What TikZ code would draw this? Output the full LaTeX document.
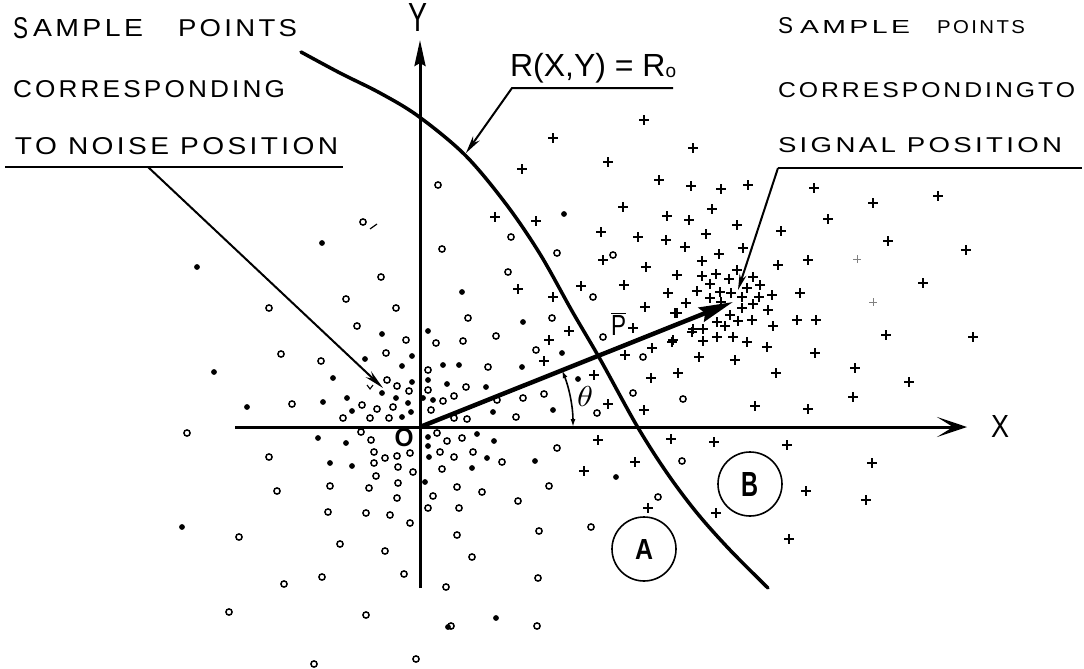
\documentclass[tikz,border=0pt]{standalone}
\usepackage{fontspec}
\usepackage{graphicx}
\usetikzlibrary{arrows.meta}
\newfontfamily\lf{Liberation Sans}
\newcommand{\fitw}[3]{\resizebox{#1pt}{#2pt}{\lf\addfontfeatures{LetterSpace=12}#3}}
\tikzset{
  txt/.style={inner sep=0pt, outer sep=0pt},
  axis/.style={line width=3pt},
  leader/.style={line width=2pt},
  curveR/.style={line width=3.5pt, line cap=round},
  vecP/.style={line width=4.5pt},
  pls/.pic={\draw[line width=1.8pt] (-5,0)--(5,0) (0,-5)--(0,5);},
  opn/.pic={\draw[line width=1.5pt] (0,0) circle[radius=3.1];},
  dt/.pic={\fill (0,0) circle[radius=2.9];},
  faint/.pic={\draw[line width=0.6pt, black!50] (-4,0)--(4,0) (0,-4)--(0,4);},
}
\begin{document}
\begin{tikzpicture}[x=1pt, y=-1pt]
\useasboundingbox (0,0) rectangle (1084,669);

% ---------- left text block ----------
\node[txt, anchor=base west] (lS) at (13,38) {\fitw{15}{21}{S}};
\node[txt, anchor=base west] (lAmple) at (33,37) {\fitw{110}{17}{AMPLE}};
\node[txt, anchor=base west] (lPoints) at (178,37) {\fitw{119}{17}{POINTS}};
\node[txt, anchor=base west] (lCorr) at (13,97) {\fitw{272}{17}{CORRESPONDING}};
\node[txt, anchor=base west] (lNoise) at (15,154) {\fitw{323}{17}{TO NOISE POSITION}};
\coordinate (lU0) at (5,167);
\coordinate (lU1) at (343,167);
\coordinate (lLead) at (148,167);
\coordinate (lTip) at (383,388);
\draw[leader] (lU0) -- (lU1);
\draw[leader, -{Stealth[length=20pt,width=8pt]}] (lLead) -- (lTip);

% ---------- right text block ----------
\node[txt, anchor=base west] (rS) at (778,34) {\fitw{15}{16}{S}};
\node[txt, anchor=base west] (rAmple) at (800,34) {\fitw{110}{13}{AMPLE}};
\node[txt, anchor=base west] (rPoints) at (937,34) {\fitw{88}{13}{POINTS}};
\node[txt, anchor=base west] (rCorr) at (778,98) {\fitw{297}{15}{CORRESPONDINGTO}};
\node[txt, anchor=base west] (rSignal) at (778,152) {\fitw{284}{15}{SIGNAL POSITION}};
\coordinate (rU0) at (778,168);
\coordinate (rU1) at (1082,168);
\coordinate (rTip) at (738,290);
\draw[leader] (rU0) -- (rU1);
\draw[leader, -{Stealth[length=16pt,width=7pt]}] (rU0) -- (rTip);

% ---------- curve label ----------
\node[txt, anchor=base west] (Rlab) at (510,77) {\lf\fontsize{32}{32}\selectfont R(X,Y) = R\raisebox{-1pt}{\fontsize{19}{19}\selectfont o}};
\coordinate (Rend) at (673,88);
\coordinate (Rknee) at (512,88);
\coordinate (Rtip) at (466,153);
\draw[leader, -{Stealth[length=18pt,width=8pt]}] (Rend) -- (Rknee) -- (Rtip);

% ---------- axes ----------
\coordinate (O) at (420,427);
\coordinate (Xl) at (235,427);
\coordinate (Xr) at (967,427);
\coordinate (Yb) at (420,588);
\coordinate (Yt) at (420,40);
\draw[axis, -{Stealth[length=30pt,width=20pt,inset=16pt]}] (Xl) -- (Xr);
\draw[axis, -{Stealth[length=26pt,width=11pt,inset=3pt]}] (Yb) -- (Yt);
\node[txt, anchor=base west] (Xlab) at (991,437) {\resizebox{18pt}{22pt}{\lf X}};
\node[txt, anchor=base] (Ylab) at (418,31) {\resizebox{19pt}{28pt}{\lf Y}};
\node[txt] (Olab) at (404,438) {\resizebox{19pt}{18pt}{\lf\bfseries O}};

% ---------- decision curve ----------
\draw[curveR] plot[smooth, tension=0.55] coordinates {(301,52) (340,73) (380,93) (418,116) (465,155) (506,204) (540,254) (572,311) (600,359) (637,426) (667,473) (697,513) (730,550) (768,588)};

% ---------- points ----------
\foreach \x/\y in {363/222, 381/277, 346/299, 269/308, 396/308, 357/326, 406/340, 281/354, 321/361, 386/353, 387/380, 397/386, 409/391, 292/404, 362/405, 377/409, 393/407, 343/418, 370/418, 389/418, 428/370, 428/390, 436/343, 463/341, 468/318, 496/336, 552/318, 536/350, 488/367, 466/387, 454/396, 443/401, 431/410, 454/418, 467/419, 497/400, 523/398, 544/394, 516/417, 597/413, 633/393, 683/399, 643/357, 603/337, 187/433, 361/432, 371/440, 437/433, 447/441, 269/457, 374/452, 374/463, 385/458, 397/456, 410/453, 398/467, 413/472, 440/452, 442/469, 376/476, 330/486, 369/488, 398/483, 277/491, 397/498, 433/496, 328/512, 366/513, 390/515, 428/508, 410/523, 239/537, 340/544, 385/551, 322/577, 404/574, 284/584, 446/587, 229/612, 366/615, 314/664, 416/659, 462/438, 557/448, 454/457, 473/452, 502/462, 457/487, 482/492, 549/486, 518/501, 459/508, 539/531, 591/527, 457/535, 472/557, 538/578, 451/626, 537/626, 682/461, 658/497, 438/185, 511/237, 442/249, 557/253, 613/255, 508/272, 593/297}
  \pic at (\x,\y) {opn};
\foreach \x/\y in {322/243, 197/267, 382/334, 428/331, 365/359, 412/356, 402/366, 214/372, 333/378, 412/382, 382/393, 247/407, 323/402, 347/398, 396/398, 408/403, 352/411, 402/417, 411/412, 428/380, 423/398, 523/322, 562/353, 522/367, 459/365, 443/365, 447/384, 486/387, 433/400, 493/412, 553/410, 578/379, 318/438, 346/443, 428/437, 428/446, 330/463, 352/466, 429/457, 425/482, 182/527, 448/627, 477/434, 494/441, 535/461, 487/458, 472/468, 496/618, 616/477, 564/214, 462/292}
  \pic at (\x,\y) {dt};
\foreach \x/\y in {569/331, 549/340, 544/361, 594/375, 608/404, 644/410, 651/378, 678/373, 625/355, 652/348, 672/342, 692/332, 645/307, 633/328, 675/313, 598/440, 671/439, 584/471, 635/462, 714/442, 787/445, 806/491, 648/508, 716/513, 789/539, 872/463, 866/500, 644/120, 553/138, 693/148, 608/162, 522/169, 659/180, 691/186, 721/189, 623/207, 495/217, 536/221, 667/216, 712/209, 689/220, 737/225, 601/232, 638/237, 666/240, 706/234, 685/247, 603/260, 719/254, 646/267, 702/261, 737/270, 677/275, 702/276, 716/274, 729/279, 710/284, 581/286, 624/285, 518/289, 553/297, 668/293, 697/291, 720/292, 731/293, 710/298, 778/265, 808/260, 753/277, 747/288, 760/285, 759/297, 742/297, 772/295, 800/293, 721/302, 686/303, 677/313, 742/308, 753/304, 768/310, 730/315, 738/321, 752/320, 773/326, 797/320, 816/320, 717/322, 725/326, 693/329, 703/329, 673/340, 703/341, 717/337, 733/337, 747/342, 767/347, 815/353, 699/357, 735/360, 748/185, 814/188, 873/203, 938/196, 828/219, 781/231, 888/241, 966/250, 743/248, 923/283, 886/335, 973/337, 776/373, 855/368, 909/382, 755/406, 808/409, 853/397}
  \pic at (\x,\y) {pls};
\foreach \x/\y in {857/259, 873/302}
  \pic at (\x,\y) {faint};
\draw[line width=1.2pt] (370,229) -- (377,224);
\draw[line width=1.1pt] (367,385) -- (370,389) -- (373,385);

% ---------- vector P and angle ----------
\coordinate (Ptip) at (733,302);
\draw[vecP, -{Stealth[length=34pt,width=15pt,inset=4pt]}] (O) -- (Ptip);
\node[txt, anchor=base west] (Plab) at (611,335) {\(\overline{\hbox{\resizebox{15pt}{20pt}{\lf P}}}\)};
\draw[line width=1.6pt, {Latex[length=8pt,width=5pt]}-{Latex[length=8pt,width=5pt]}] (573,427) arc[start angle=0, end angle=-21.8, radius=153];
\node[txt] (th) at (585,396) {\resizebox{16pt}{20pt}{$\theta$}};

% ---------- regions ----------
\node[draw, circle, line width=1.6pt, minimum size=64pt, inner sep=0pt] (A) at (644,549) {\resizebox{18pt}{20pt}{\lf\bfseries A}};
\node[draw, circle, line width=1.6pt, minimum size=64pt, inner sep=0pt] (B) at (750,484) {\resizebox{17pt}{24pt}{\lf\bfseries B}};
\end{tikzpicture}
\end{document}
